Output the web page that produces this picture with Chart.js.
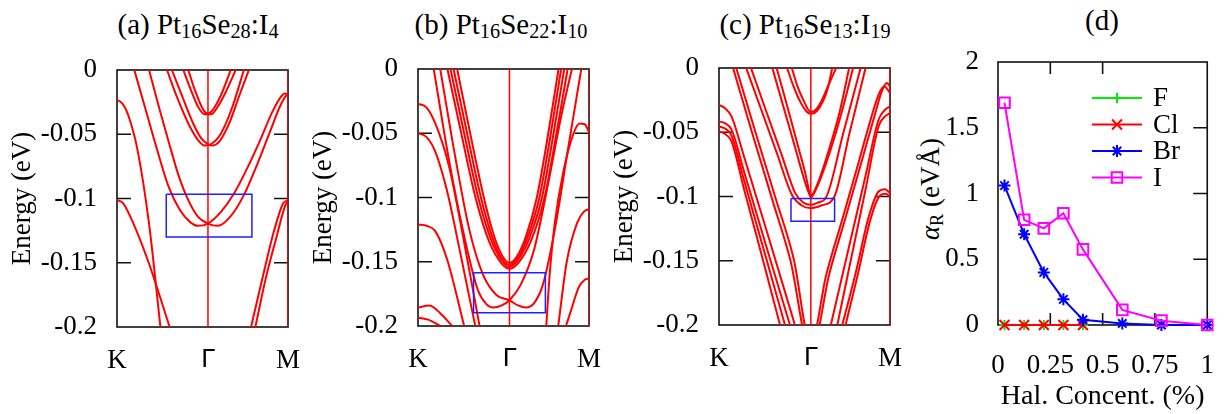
<!DOCTYPE html>
<html lang="en">
<head>
<meta charset="UTF-8">
<title>Pt16Se32 halide bands and Rashba coefficient</title>
<script src="https://cdn.jsdelivr.net/npm/chart.js"></script>
<style>
  body { margin: 0; background: #fff; font-family: 'Liberation Serif', 'Times New Roman', serif; }
  #wrap { position: relative; width: 1231px; height: 414px; overflow: hidden; }
  canvas { position: absolute; }
  .ptitle { position: absolute; top: 10px; font-size: 29px; line-height: 29px; color: #000; white-space: nowrap; transform: translateX(-50%); }
  .ptitle sub { font-size: 0.7em; vertical-align: -0.2em; line-height: 0; }
  #alpha { position: absolute; left: 930px; top: 189px; font-size: 27px; line-height: 27px; white-space: nowrap; transform: translate(-50%, -50%) rotate(-90deg); color: #000; }
  #alpha sub { font-size: 0.68em; vertical-align: -0.22em; line-height: 0; }
</style>
</head>
<body>
<div id="wrap">
  <div class="ptitle" style="left:198px">(a) Pt<sub>16</sub>Se<sub>28</sub>:I<sub>4</sub></div>
  <div class="ptitle" style="left:501px">(b) Pt<sub>16</sub>Se<sub>22</sub>:I<sub>10</sub></div>
  <div class="ptitle" style="left:805px">(c) Pt<sub>16</sub>Se<sub>13</sub>:I<sub>19</sub></div>
  <div class="ptitle" style="left:1102px; top:6px">(d)</div>
  <div id="alpha"><i>α</i><sub>R</sub> (eVÅ)</div>
  <canvas id="cA" width="310" height="370" style="left:0px; top:30px"></canvas>
  <canvas id="cB" width="310" height="370" style="left:301px; top:30px"></canvas>
  <canvas id="cC" width="310" height="370" style="left:602px; top:30px"></canvas>
  <canvas id="cD" width="326" height="384" style="left:905px; top:30px"></canvas>
</div>
<script>
// k-path labels and energy ticks shared by the three band plots
const kLabels = ['K', 'Γ', 'M'];
const eTicks = [-0.2, -0.15, -0.1, -0.05, 0];
const eInner = [-0.05, -0.1, -0.15];

// panel (a) Pt16Se28:I4  -- [k, E(eV)], K = 0, M = 1
const gammaA = 0.532;
const aK1 = [[0,-0.0234],[0.031,-0.026],[0.069,-0.0364],[0.121,-0.0629],[0.187,-0.1192],[0.254,-0.2]];
const aK2 = [[0,-0.1013],[0.034,-0.1034],[0.096,-0.1195],[0.187,-0.1506],[0.308,-0.2]];
const aU1 = [[0.388,0],[0.436,-0.0169],[0.474,-0.0286],[0.512,-0.0345],[0.551,-0.0325],[0.608,-0.0195],[0.665,0]];
const aU2 = [[0.417,0],[0.459,-0.0169],[0.512,-0.0325],[0.551,-0.0345],[0.589,-0.0286],[0.637,-0.0169],[0.694,0]];
const aV1 = [[0.2925,0],[0.35,-0.0208],[0.417,-0.0416],[0.474,-0.0545],[0.512,-0.0587],[0.551,-0.0576],[0.608,-0.0494],[0.675,-0.0286],[0.742,0]];
const aV2 = [[0.321,0],[0.382,-0.0208],[0.4455,-0.0416],[0.493,-0.0532],[0.532,-0.0576],[0.56,-0.0587],[0.598,-0.0558],[0.656,-0.0416],[0.713,-0.0208],[0.771,0]];
const aR1 = [[0.1013,0],[0.1683,-0.0312],[0.2352,-0.0623],[0.3021,-0.0909],[0.369,-0.1091],[0.4264,-0.1182],[0.4742,-0.1213],[0.5315,-0.1195],[0.608,-0.1104],[0.6845,-0.0961],[0.761,-0.0766],[0.8375,-0.0545],[0.9044,-0.0338],[0.9522,-0.0221],[0.9809,-0.0182],[1,-0.019]];
const aR2 = [[0.1874,0],[0.2447,-0.0286],[0.3021,-0.0558],[0.3595,-0.0818],[0.4168,-0.1013],[0.4742,-0.1143],[0.5315,-0.1195],[0.5889,-0.1213],[0.6654,-0.1137],[0.7419,-0.0974],[0.8184,-0.074],[0.8948,-0.048],[0.9522,-0.0286],[0.9866,-0.0203],[1,-0.0195]];
const aM1 = [[0.784,-0.2],[0.857,-0.1584],[0.914,-0.1273],[0.971,-0.1039],[1,-0.1013]];
const aM2 = [[0.809,-0.2],[0.872,-0.161],[0.933,-0.1299],[0.981,-0.1065],[1,-0.1013]];
const aBoxK = [0.288, 0.789];
const aBoxE = [-0.0967, -0.13];

// panel (b) Pt16Se22:I10
const gammaB = 0.535;
const bK1 = [[0,-0.027],[0.05,-0.03],[0.1,-0.042],[0.18,-0.075],[0.27,-0.135],[0.36,-0.2]];
const bK2 = [[0,-0.05],[0.05,-0.053],[0.1,-0.064],[0.17,-0.095],[0.25,-0.145],[0.335,-0.2]];
const bK3 = [[0,-0.121],[0.05,-0.122],[0.1,-0.126],[0.17,-0.148],[0.27,-0.2]];
const bK4 = [[0,-0.1857],[0.067,-0.184],[0.13,-0.19],[0.2,-0.2]];
const bK5 = [[0,-0.1935],[0.06,-0.195],[0.13,-0.2]];
const bV1 = [[0.229,0],[0.305,-0.05],[0.385,-0.1],[0.445,-0.13],[0.495,-0.146],[0.535,-0.151],[0.578,-0.146],[0.632,-0.13],[0.695,-0.1],[0.762,-0.05],[0.822,0]];
const bV2 = [[0.208,0],[0.287,-0.05],[0.368,-0.1],[0.435,-0.131],[0.492,-0.148],[0.535,-0.1525],[0.58,-0.148],[0.64,-0.131],[0.71,-0.1],[0.777,-0.05],[0.837,0]];
const bV3 = [[0.19,0],[0.27,-0.05],[0.352,-0.1],[0.425,-0.132],[0.49,-0.149],[0.535,-0.154],[0.583,-0.149],[0.65,-0.132],[0.725,-0.1],[0.793,-0.05],[0.855,0]];
const bV4 = [[0.172,0],[0.253,-0.05],[0.336,-0.1],[0.415,-0.134],[0.487,-0.151],[0.535,-0.1555],[0.586,-0.151],[0.66,-0.134],[0.74,-0.1],[0.81,-0.05],[0.875,0]];
const bR1 = [[0.092,0],[0.18,-0.07],[0.27,-0.13],[0.35,-0.172],[0.4,-0.183],[0.44,-0.1857],[0.49,-0.184],[0.535,-0.18],[0.6,-0.168],[0.68,-0.14],[0.76,-0.09],[0.84,-0.035],[0.9,0]];
const bR2 = [[0.13,0],[0.22,-0.07],[0.3,-0.125],[0.38,-0.16],[0.46,-0.176],[0.535,-0.18],[0.585,-0.184],[0.631,-0.1857],[0.68,-0.182],[0.73,-0.168],[0.8,-0.125],[0.88,-0.06],[0.955,0]];
const bM1 = [[0.75,-0.2],[0.77,-0.16],[0.8,-0.12],[0.85,-0.08],[0.91,-0.05],[0.946,-0.0424],[0.975,-0.043],[1,-0.049]];
const bM2 = [[0.82,-0.2],[0.87,-0.15],[0.93,-0.12],[0.97,-0.111],[1,-0.109]];
const bM3 = [[0.865,-0.2],[0.89,-0.19],[0.94,-0.17],[0.975,-0.164],[1,-0.163]];
const bBoxK = [0.325, 0.745];
const bBoxE = [-0.1585, -0.1896];

// panel (c) Pt16Se13:I19
const gammaC = 0.537;
const cA1 = [[0.398,0],[0.436,-0.0143],[0.474,-0.026],[0.512,-0.0338],[0.537,-0.0356],[0.57,-0.0338],[0.608,-0.026],[0.637,-0.0156],[0.662,0]];
const cA2 = [[0.426,0],[0.459,-0.0143],[0.497,-0.026],[0.522,-0.0325],[0.537,-0.0343],[0.566,-0.0325],[0.598,-0.026],[0.637,-0.0143],[0.685,0]];
const cB1 = [[0.312,0],[0.379,-0.0312],[0.446,-0.0623],[0.493,-0.0844],[0.522,-0.0961],[0.537,-0.1],[0.555,-0.0966],[0.589,-0.0857],[0.646,-0.0623],[0.704,-0.0351],[0.761,0]];
const cB2 = [[0.337,0],[0.402,-0.0312],[0.465,-0.0623],[0.509,-0.0844],[0.528,-0.0966],[0.537,-0.1008],[0.556,-0.0974],[0.595,-0.0857],[0.656,-0.0623],[0.719,-0.0338],[0.784,0]];
const cC1 = [[0.159,0],[0.245,-0.0317],[0.34,-0.0668],[0.426,-0.0987],[0.484,-0.107],[0.537,-0.1091],[0.598,-0.107],[0.675,-0.1],[0.761,-0.052],[0.857,0]];
const cC2 = [[0.187,0],[0.273,-0.0325],[0.363,-0.0662],[0.446,-0.0974],[0.493,-0.1047],[0.537,-0.1065],[0.579,-0.1047],[0.627,-0.1005],[0.727,-0.0506],[0.828,0]];
const cD1 = [[0.0822,0],[0.197,-0.0519],[0.312,-0.1026],[0.417,-0.1494],[0.537,-0.222],[0.646,-0.1597],[0.742,-0.1156],[0.837,-0.0714],[0.914,-0.0351],[0.952,-0.0182],[0.981,-0.0117],[1,-0.0143]];
const cD2 = [[0.101,0],[0.216,-0.0512],[0.331,-0.1013],[0.436,-0.148],[0.537,-0.215],[0.627,-0.161],[0.723,-0.1169],[0.818,-0.0727],[0.895,-0.0364],[0.937,-0.0195],[0.967,-0.0143],[1,-0.0195]];
const cK1 = [[0,-0.0286],[0.034,-0.0312],[0.073,-0.0377],[0.149,-0.0701],[0.283,-0.1286],[0.444,-0.2]];
const cK2 = [[0,-0.0416],[0.034,-0.0429],[0.073,-0.048],[0.149,-0.0818],[0.283,-0.1416],[0.415,-0.2]];
const cK3 = [[0,-0.0455],[0.034,-0.047],[0.073,-0.0527],[0.149,-0.0886],[0.283,-0.1514],[0.386,-0.2]];
const cK4 = [[0,-0.0494],[0.034,-0.0512],[0.073,-0.0571],[0.149,-0.0956],[0.245,-0.1434],[0.357,-0.2]];
const cM1 = [[0.654,-0.2],[0.761,-0.1387],[0.857,-0.0839],[0.933,-0.0403],[0.971,-0.0325],[1,-0.0299]];
const cM2 = [[0.692,-0.2],[0.761,-0.1558],[0.857,-0.0945],[0.933,-0.0455],[0.971,-0.0377],[1,-0.0351]];
const cM3 = [[0.721,-0.2],[0.799,-0.1597],[0.876,-0.1156],[0.933,-0.0961],[0.971,-0.0943],[1,-0.0974]];
const cM4 = [[0.74,-0.2],[0.809,-0.1623],[0.885,-0.1182],[0.937,-0.1],[0.975,-0.0979],[1,-0.1]];
const cBoxK = [0.421, 0.676];
const cBoxE = [-0.1015, -0.1193];

// panel (d) Rashba coefficient vs halogen concentration
const halConc = [0.031, 0.125, 0.219, 0.3125, 0.406, 0.594, 0.781, 1.0];
const alphaF  = [0, 0, 0, 0, 0];
const alphaCl = [0, 0, 0, 0, 0];
const alphaBr = [1.06, 0.69, 0.40, 0.195, 0.04, 0.012, 0, 0];
const alphaI  = [1.69, 0.80, 0.735, 0.85, 0.575, 0.115, 0.033, 0];
const dXTicks = [0, 0.25, 0.5, 0.75, 1];
const dXLabels = ['0', '0.25', '0.5', '0.75', '1'];
const dYTicks = [0, 0.5, 1, 1.5, 2];
const dYLabels = ['0', '0.5', '1', '1.5', '2'];

const serif = "'Liberation Serif', 'Times New Roman', serif";
Chart.defaults.font.family = serif;
Chart.defaults.color = '#000';

// black frame with inward tick marks, drawn under the curves
const framePlugin = {
  id: 'frame',
  beforeDatasetsDraw(chart, args, o) {
    const { ctx, chartArea: a } = chart;
    const sx = chart.scales.x, sy = chart.scales.y;
    ctx.save();
    ctx.strokeStyle = '#111';
    ctx.lineWidth = 1.6;
    ctx.strokeRect(a.left, a.top, a.width, a.height);
    ctx.beginPath();
    (o.yLeft || []).forEach(v => { const y = sy.getPixelForValue(v); ctx.moveTo(a.left, y); ctx.lineTo(a.left + o.len, y); });
    (o.yRight || []).forEach(v => { const y = sy.getPixelForValue(v); ctx.moveTo(a.right, y); ctx.lineTo(a.right - o.len, y); });
    (o.xTop || []).forEach(v => { const x = sx.getPixelForValue(v); ctx.moveTo(x, a.top); ctx.lineTo(x, a.top + o.xlen); });
    (o.xBottom || []).forEach(v => { const x = sx.getPixelForValue(v); ctx.moveTo(x, a.bottom); ctx.lineTo(x, a.bottom - o.xlen); });
    ctx.stroke();
    ctx.restore();
  }
};

function mark(ctx, style, r, x, y) {
  ctx.beginPath();
  if (style === 'rect') {
    ctx.rect(x - r * 0.707, y - r * 0.707, r * 1.414, r * 1.414);
  }
  if (style === 'cross' || style === 'star') {
    ctx.moveTo(x, y - r); ctx.lineTo(x, y + r);
    ctx.moveTo(x - r, y); ctx.lineTo(x + r, y);
  }
  if (style === 'crossRot' || style === 'star') {
    const d = r * 0.707;
    ctx.moveTo(x - d, y - d); ctx.lineTo(x + d, y + d);
    ctx.moveTo(x - d, y + d); ctx.lineTo(x + d, y - d);
  }
  ctx.stroke();
}

// gnuplot-like key: line sample with marker in the middle
const keyPlugin = {
  id: 'key',
  afterDatasetsDraw(chart) {
    const { ctx, chartArea: a } = chart;
    ctx.save();
    chart.data.datasets.forEach((ds, i) => {
      const y = a.top + 36 + i * 26.5;
      const x1 = a.left + 94, x2 = a.left + 144;
      ctx.strokeStyle = ds.borderColor;
      ctx.lineWidth = 2;
      ctx.beginPath(); ctx.moveTo(x1, y); ctx.lineTo(x2, y); ctx.stroke();
      mark(ctx, ds.pointStyle, ds.pointRadius, (x1 + x2) / 2, y);
      ctx.fillStyle = '#000';
      ctx.font = '27px ' + serif;
      ctx.textBaseline = 'middle';
      ctx.fillText(ds.label, a.left + 155, y + 1);
    });
    ctx.restore();
  }
};

function eLabel(v) {
  const s = String(Number(v.toFixed(2)));
  return s === '-0' ? '0' : s;
}

function bandChart(id, bands, gk, boxK, boxE, pad) {
  const datasets = bands.map(b => ({
    data: b.map(p => ({ x: p[0], y: p[1] })),
    borderColor: '#ff0000', borderWidth: 2, pointRadius: 0,
    cubicInterpolationMode: 'monotone', order: 2
  }));
  // Gamma and M vertical lines
  [gk, 1].forEach(k => datasets.push({
    data: [{ x: k, y: eTicks[0] }, { x: k, y: eTicks[eTicks.length - 1] }],
    borderColor: '#ff0000', borderWidth: 1.5, pointRadius: 0, order: 2
  }));
  datasets.push({
    data: [
      { x: boxK[0], y: boxE[0] }, { x: boxK[1], y: boxE[0] },
      { x: boxK[1], y: boxE[1] }, { x: boxK[0], y: boxE[1] }, { x: boxK[0], y: boxE[0] }
    ],
    borderColor: '#1f1fff', borderWidth: 1.5, pointRadius: 0, order: 1
  });
  return new Chart(document.getElementById(id), {
    type: 'line',
    data: { datasets },
    options: {
      responsive: false, animation: false, events: [],
      layout: { padding: pad },
      plugins: {
        legend: { display: false }, tooltip: { enabled: false },
        frame: { yLeft: eInner, yRight: eInner, len: 14 }
      },
      scales: {
        x: {
          type: 'linear', min: 0, max: 1,
          grid: { display: false }, border: { display: false },
          afterBuildTicks: s => { s.ticks = [0, gk, 1].map(v => ({ value: v })); },
          afterFit: s => { s.height = 50; },
          ticks: {
            padding: 10, autoSkip: false, maxRotation: 0, color: '#000',
            callback: (v, i) => kLabels[i],
            font: c => c.index === 1 ? { family: "'DejaVu Sans', sans-serif", size: 25 } : { family: serif, size: 27 }
          }
        },
        y: {
          min: -0.2, max: 0,
          grid: { display: false }, border: { display: false },
          afterBuildTicks: s => { s.ticks = eTicks.map(v => ({ value: v })); },
          afterFit: s => { s.width = 117; },
          ticks: { padding: 12, color: '#000', font: { size: 27 }, callback: v => eLabel(v) },
          title: { display: true, text: 'Energy (eV)', color: '#000', font: { size: 27 }, padding: { top: 7, bottom: 0 } }
        }
      }
    },
    plugins: [framePlugin]
  });
}

bandChart('cA', [aK1, aK2, aU1, aU2, aV1, aV2, aR1, aR2, aM1, aM2], gammaA, aBoxK, aBoxE,
  { left: 0, top: 40, right: 18, bottom: 23 });
bandChart('cB', [bK1, bK2, bK3, bK4, bK5, bV1, bV2, bV3, bV4, bR1, bR2, bM1, bM2, bM3], gammaB, bBoxK, bBoxE,
  { left: 0, top: 39, right: 18, bottom: 24 });
bandChart('cC', [cA1, cA2, cB1, cB2, cC1, cC2, cD1, cD2, cK1, cK2, cK3, cK4, cM1, cM2, cM3, cM4], gammaC, cBoxK, cBoxE,
  { left: 0, top: 38, right: 18, bottom: 25 });

function series(label, ys, color, style, r, order) {
  return {
    label,
    data: ys.map((y, i) => ({ x: halConc[i], y })),
    borderColor: color, backgroundColor: color, borderWidth: 2,
    pointStyle: style, pointRadius: r, pointBorderWidth: 2,
    pointBackgroundColor: 'rgba(0,0,0,0)', pointBorderColor: color,
    clip: false, order
  };
}

new Chart(document.getElementById('cD'), {
  type: 'line',
  data: {
    datasets: [
      series('F', alphaF, '#00ee00', 'cross', 5, 3),
      series('Cl', alphaCl, '#ff0000', 'crossRot', 7, 2),
      series('Br', alphaBr, '#0000ff', 'star', 6, 1),
      series('I', alphaI, '#ff00ff', 'rect', 7.5, 0)
    ]
  },
  options: {
    responsive: false, animation: false, events: [],
    layout: { padding: { left: 0, top: 32, right: 14, bottom: 0 } },
    plugins: {
      legend: { display: false }, tooltip: { enabled: false },
      frame: { yRight: [0.5, 1, 1.5], len: 14, xTop: [0.25, 0.5], xBottom: [0.25, 0.5, 0.75], xlen: 12 }
    },
    scales: {
      x: {
        type: 'linear', min: 0, max: 1,
        grid: { display: false }, border: { display: false },
        afterBuildTicks: s => { s.ticks = dXTicks.map(v => ({ value: v })); },
        afterFit: s => { s.height = 89; },
        ticks: { padding: 17, autoSkip: false, maxRotation: 0, color: '#000', font: { size: 27 }, callback: (v, i) => dXLabels[i] },
        title: { display: true, text: 'Hal. Concent. (%)', color: '#000', font: { size: 28 }, padding: { top: 0, bottom: 1 } }
      },
      y: {
        min: 0, max: 2,
        grid: { display: false }, border: { display: false },
        afterBuildTicks: s => { s.ticks = dYTicks.map(v => ({ value: v })); },
        afterFit: s => { s.width = 93; },
        ticks: { padding: 11, color: '#000', font: { size: 27 }, callback: (v, i) => dYLabels[i] }
      }
    }
  },
  plugins: [framePlugin, keyPlugin]
});
</script>
</body>
</html>
